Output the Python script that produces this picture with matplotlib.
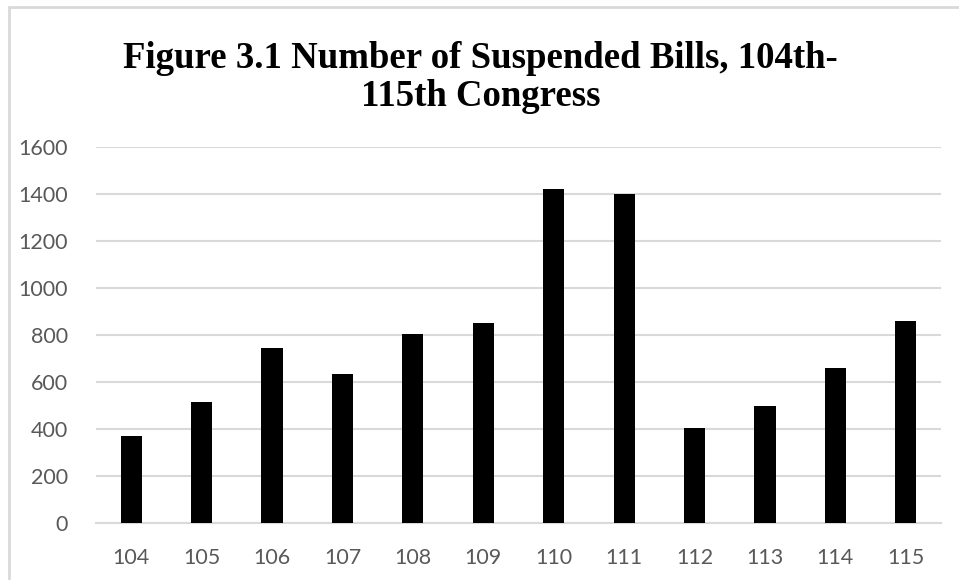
import numpy as np
import matplotlib
matplotlib.use("Agg")
import matplotlib.pyplot as plt
from matplotlib.patches import Rectangle

# suspended bills per Congress
congress = ['104', '105', '106', '107', '108', '109', '110', '111', '112', '113', '114', '115']
bills = [371, 513, 743, 632, 803, 852, 1421, 1400, 404, 496, 661, 858]
yticks = [0, 200, 400, 600, 800, 1000, 1200, 1400, 1600]

fig = plt.figure(figsize=(9.59, 5.80), dpi=100)
ax = fig.add_axes([96/959, 1-523/580, 845/959, 376/580])

x = np.arange(len(congress))
ax.bar(x, bills, width=0.30, color='black', zorder=3)

ax.set_xlim(-0.5, len(congress)-0.5)
ax.set_ylim(0, 1600)
ax.set_yticks(yticks)
ax.set_yticklabels([str(v) for v in yticks])
ax.set_xticks(x)
ax.set_xticklabels(congress)

ax.grid(axis='y', color='#d9d9d9', linewidth=1.5, zorder=0)
for s in ['top', 'right', 'left']:
    ax.spines[s].set_visible(False)
ax.spines['bottom'].set_color('#d9d9d9')
ax.spines['bottom'].set_linewidth(1.5)

ax.tick_params(axis='both', length=0, labelcolor='#595959', labelsize=15.5)
ax.tick_params(axis='y', pad=20)
ax.tick_params(axis='x', pad=18)
for lab in ax.get_xticklabels() + ax.get_yticklabels():
    lab.set_fontfamily('Lato')

fig.text(0.501, 1-41/580, 'Figure 3.1 Number of Suspended Bills, 104th-\n115th Congress',
         ha='center', va='top', fontsize=26.5, fontweight='bold',
         family='Liberation Serif', linespacing=1.12)

# light frame around the chart area
fig.patches.append(Rectangle((9/959, -0.05), 1.1, 1-7/580+0.05, transform=fig.transFigure,
                             fill=False, edgecolor='#d9d9d9', linewidth=2))

fig.savefig('out.png', dpi=100)
